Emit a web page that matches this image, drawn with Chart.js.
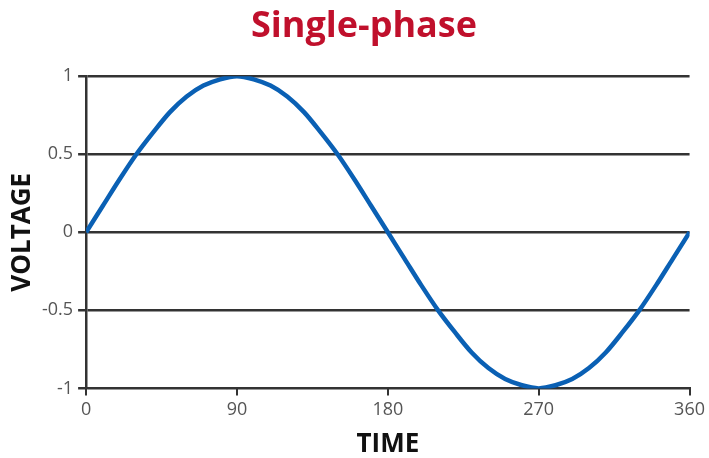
<!DOCTYPE html>
<html>
<head>
<meta charset="utf-8">
<script src="https://cdn.jsdelivr.net/npm/chart.js@4/dist/chart.umd.min.js"></script>
<style>
html,body{margin:0;padding:0;background:#fff;}
#wrap{width:709px;height:458px;}
</style>
</head>
<body>
<div id="wrap"><canvas id="c" width="709" height="458"></canvas></div>
<script>
// Angle (degrees) along the TIME axis
const timeDeg = [0,10,20,30,40,50,60,70,80,90,100,110,120,130,140,150,160,170,180,190,200,210,220,230,240,250,260,270,280,290,300,310,320,330,340,350,360];
// Voltage
const voltage = [0,0.17,0.34,0.5,0.64,0.77,0.87,0.94,0.98,1,0.98,0.94,0.87,0.77,0.64,0.5,0.34,0.17,0,-0.17,-0.34,-0.5,-0.64,-0.77,-0.87,-0.94,-0.98,-1,-0.98,-0.94,-0.87,-0.77,-0.64,-0.5,-0.34,-0.17,0];
const xTicks = [0,90,180,270,360];
const yTicks = [-1,-0.5,0,0.5,1];
const yTickLabels = ['-1','-0.5','0','0.5','1'];

const points = timeDeg.map((t,i)=>({x:t,y:voltage[i]}));
const FONT = "'Open Sans', 'Noto Sans', sans-serif";

const titleShift = {
  id: 'titleShift',
  afterLayout(chart) {
    const t = chart.titleBlock;
    if (t) { t.left += 14; t.right += 14; }
  }
};

new Chart(document.getElementById('c'), {
  type: 'line',
  data: { datasets: [{
    data: points,
    borderColor: '#0a60b4',
    borderWidth: 4.5,
    pointRadius: 0,
    cubicInterpolationMode: 'monotone',
    fill: false
  }]},
  plugins: [titleShift],
  options: {
    responsive: false,
    animation: false,
    layout: { padding: { left: 10, right: 19, top: 0, bottom: 0 } },
    plugins: {
      legend: { display: false },
      tooltip: { enabled: false },
      title: {
        display: true,
        text: 'Single-phase',
        color: '#c0102c',
        font: { family: FONT, size: 36, weight: 'bold', lineHeight: 1.2 },
        padding: { top: 5, bottom: 28 }
      }
    },
    scales: {
      x: {
        type: 'linear',
        min: 0, max: 360,
        afterBuildTicks: (s) => { s.ticks = xTicks.map(v=>({value:v})); },
        ticks: { color: '#555', font: { family: FONT, size: 18 }, padding: 4, maxRotation: 0 },
        grid: { drawOnChartArea: false, drawTicks: true, tickLength: 7, color: '#333', lineWidth: 2 },
        border: { display: true, color: '#333', width: 2 },
        title: { display: true, text: 'TIME', color: '#111', font: { family: FONT, size: 26, weight: 'bold', lineHeight: 1 }, padding: { top: 7, bottom: 0 } }
      },
      y: {
        min: -1, max: 1,
        afterBuildTicks: (s) => { s.ticks = yTicks.map(v=>({value:v})); },
        ticks: { color: '#555', font: { family: FONT, size: 18 }, padding: 5,
          callback: (v) => { const i = yTicks.indexOf(v); return i>=0 ? yTickLabels[i] : ''; } },
        grid: { drawOnChartArea: true, drawTicks: true, tickLength: 8, color: '#333', lineWidth: 2.5 },
        border: { display: true, color: '#333', width: 2.5 },
        title: { display: true, text: 'VOLTAGE', color: '#111', font: { family: FONT, size: 26, weight: 'bold', lineHeight: 1 }, padding: { top: 0, bottom: 1 } }
      }
    }
  }
});
</script>
</body>
</html>
